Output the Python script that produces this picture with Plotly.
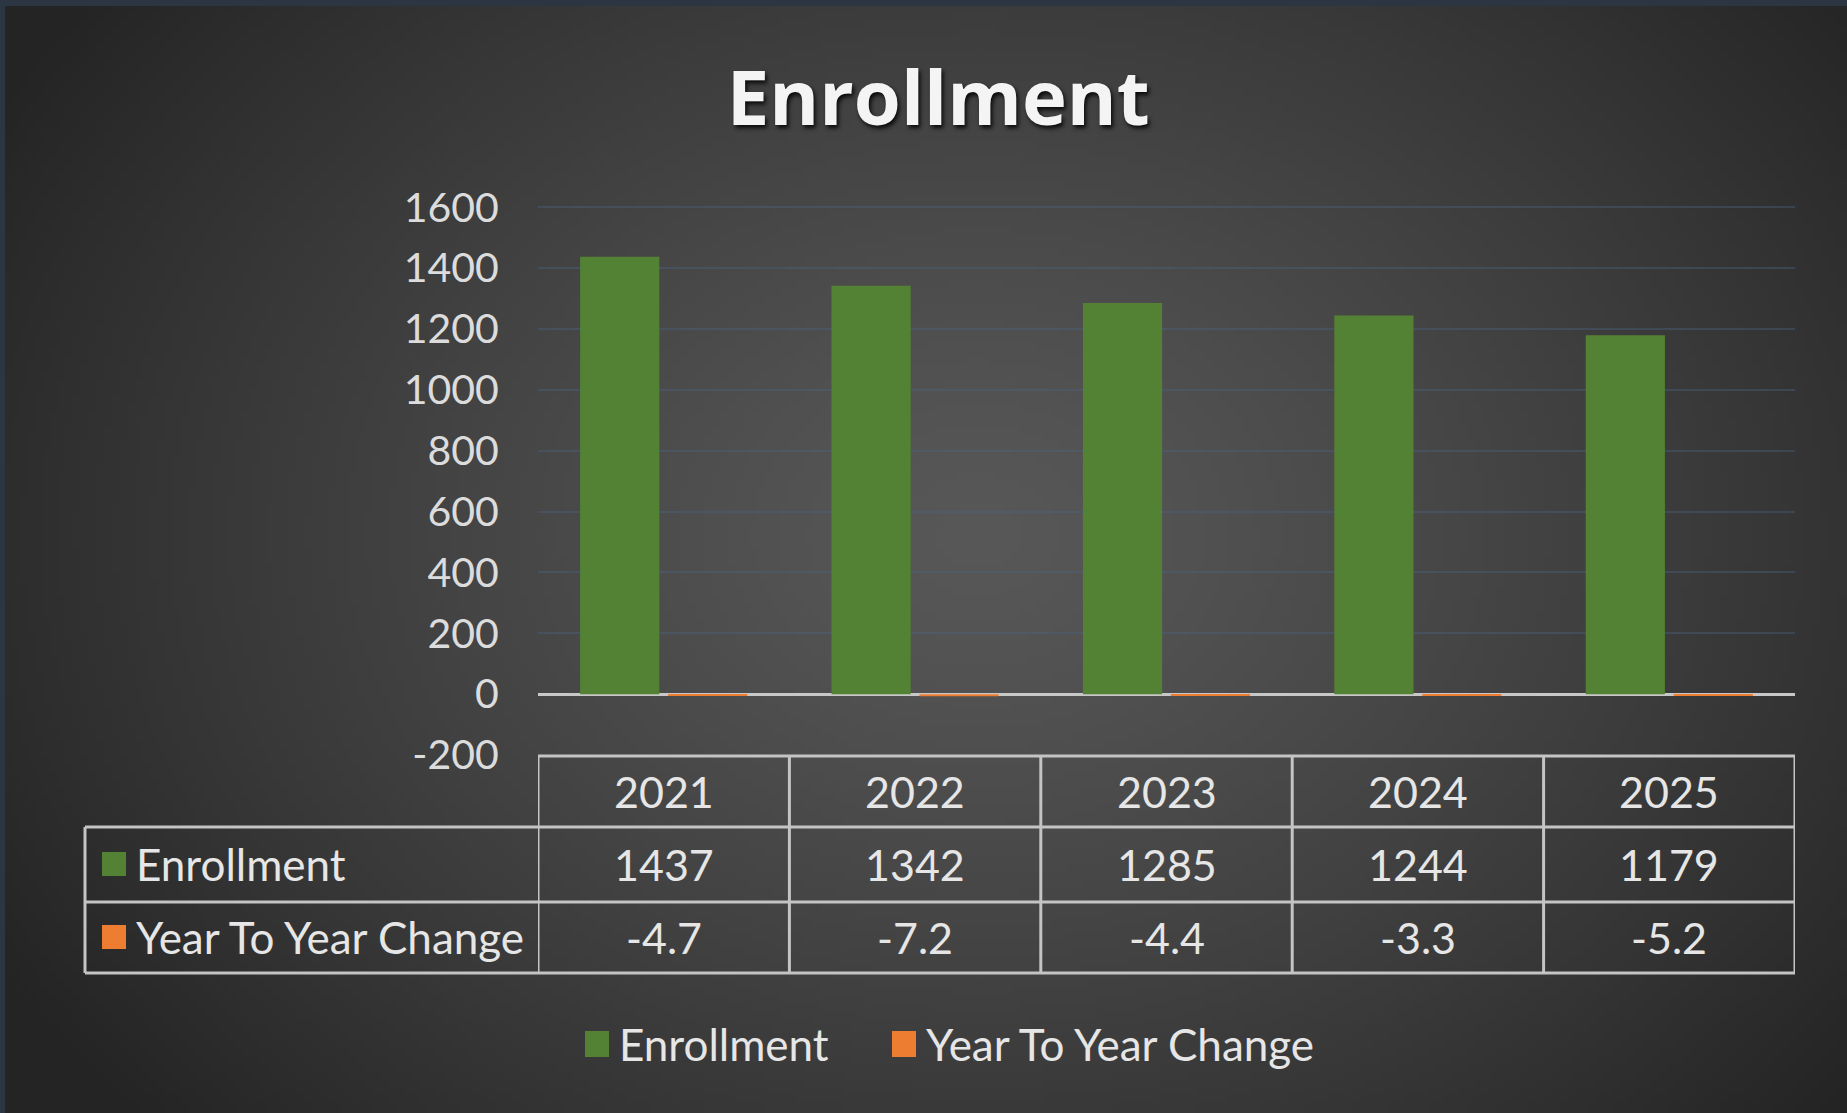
import base64, struct, zlib
import numpy as np
import plotly.graph_objects as go

# ---------------- data ----------------
years = ["2021", "2022", "2023", "2024", "2025"]
enrollment = [1437, 1342, 1285, 1244, 1179]
yoy_change = [-4.7, -7.2, -4.4, -3.3, -5.2]
series_names = ["Enrollment", "Year To Year Change"]
series_colors = ["#548235", "#ED7D31"]
y_ticks = [-200, 0, 200, 400, 600, 800, 1000, 1200, 1400, 1600]
y_tick_text = ["-200", "0", "200", "400", "600", "800", "1000", "1200", "1400", "1600"]

W, H = 1847, 1113
FONT = "Lato"
TXT = "#e6e6e6"
LINE = "#c4c4c4"


def px(x):
    return x / W


def py(y):
    return 1 - y / H


# ---------------- radial gradient background ----------------
def gradient_png(w=240, h=145):
    xs = np.linspace(0, 1, w)[None, :]
    ys = np.linspace(0, 1, h)[:, None]
    d = np.sqrt(((xs - 0.53) / 0.62) ** 2 + ((ys - 0.48) / 0.80) ** 2)
    d = np.clip(d, 0, 1) ** 1.25
    c0, c1 = 88.0, 36.0
    v = (c0 - (c0 - c1) * d).astype(np.uint8)
    img = np.stack([v, v, v], axis=-1)
    raw = b"".join(b"\x00" + img[r].tobytes() for r in range(h))

    def chunk(t, data):
        c = struct.pack(">I", len(data)) + t + data
        return c + struct.pack(">I", zlib.crc32(t + data) & 0xFFFFFFFF)

    png = b"\x89PNG\r\n\x1a\n" + chunk(b"IHDR", struct.pack(">IIBBBBB", w, h, 8, 2, 0, 0, 0))
    png += chunk(b"IDAT", zlib.compress(raw, 9)) + chunk(b"IEND", b"")
    return "data:image/png;base64," + base64.b64encode(png).decode()


fig = go.Figure()
fig.add_trace(go.Bar(x=years, y=enrollment, name=series_names[0],
                     marker=dict(color=series_colors[0], line=dict(width=0)), showlegend=False))
fig.add_trace(go.Bar(x=years, y=yoy_change, name=series_names[1],
                     marker=dict(color=series_colors[1], line=dict(width=0)), showlegend=False))

shapes = []
annotations = []

# table geometry (pixels)
tbl_left, plot_left, plot_right = 85, 538, 1795
row_lines = [756, 827, 902, 973]
hdr_c, r1_c, r2_c = 791, 864, 937

# horizontal table lines
shapes.append(dict(type="line", xref="paper", yref="paper", x0=px(plot_left), x1=px(plot_right),
                   y0=py(row_lines[0]), y1=py(row_lines[0]), line=dict(color=LINE, width=3)))
for yl in row_lines[1:]:
    shapes.append(dict(type="line", xref="paper", yref="paper", x0=px(tbl_left), x1=px(plot_right),
                       y0=py(yl), y1=py(yl), line=dict(color=LINE, width=3)))
# vertical table lines
shapes.append(dict(type="line", xref="paper", yref="paper", x0=px(tbl_left), x1=px(tbl_left),
                   y0=py(row_lines[1]), y1=py(row_lines[3]), line=dict(color=LINE, width=3)))
for i in range(len(years) + 1):
    shapes.append(dict(type="line", xref="x", yref="paper", x0=i - 0.5, x1=i - 0.5,
                       y0=py(row_lines[0]), y1=py(row_lines[3]), line=dict(color=LINE, width=3)))

# table text
cell_font = dict(family=FONT, size=43, color=TXT)
label_font = dict(family=FONT, size=44, color=TXT)
for i, yr in enumerate(years):
    annotations.append(dict(x=i, xref="x", y=py(hdr_c), yref="paper", text=yr, showarrow=False,
                            font=cell_font, yanchor="middle", xanchor="center"))
    annotations.append(dict(x=i, xref="x", y=py(r1_c), yref="paper", text=str(enrollment[i]),
                            showarrow=False, font=cell_font, yanchor="middle", xanchor="center"))
    annotations.append(dict(x=i, xref="x", y=py(r2_c), yref="paper", text=str(yoy_change[i]),
                            showarrow=False, font=cell_font, yanchor="middle", xanchor="center"))

# row headers with legend keys
for name, color, yc in zip(series_names, series_colors, [r1_c, r2_c]):
    shapes.append(dict(type="rect", xref="paper", yref="paper", x0=px(102), x1=px(126),
                       y0=py(yc - 12), y1=py(yc + 12), fillcolor=color, line=dict(width=0)))
    annotations.append(dict(x=px(134), y=py(yc), xref="paper", yref="paper", text=name,
                            showarrow=False, xanchor="left", yanchor="middle", font=label_font))

# bottom legend
leg_y = 1044
for name, color, sx in zip(series_names, series_colors, [585, 892]):
    shapes.append(dict(type="rect", xref="paper", yref="paper", x0=px(sx), x1=px(sx + 24),
                       y0=py(leg_y - 13), y1=py(leg_y + 13), fillcolor=color, line=dict(width=0)))
    annotations.append(dict(x=px(sx + 32), y=py(leg_y), xref="paper", yref="paper", text=name,
                            showarrow=False, xanchor="left", yanchor="middle", font=label_font))

# frame strip at top/left
shapes.append(dict(type="rect", xref="paper", yref="paper", x0=0, x1=1, y0=py(6), y1=1,
                   fillcolor="#2c3642", line=dict(width=0), layer="above"))
shapes.append(dict(type="rect", xref="paper", yref="paper", x0=0, x1=px(5), y0=0, y1=1,
                   fillcolor="#2c3642", line=dict(width=0), layer="above"))

fig.update_layout(
    width=W, height=H, autosize=False,
    margin=dict(l=0, r=0, t=0, b=0, pad=0),
    paper_bgcolor="#3a3a3a",
    plot_bgcolor="rgba(0,0,0,0)",
    barmode="group", bargap=0.3, bargroupgap=0.1,
    title=dict(text="Enrollment", x=0.508, xanchor="center", y=py(98), yanchor="middle",
               font=dict(family="Open Sans", size=76, color="#f4f4f4", weight=700,
                         shadow="2px 3px 4px rgba(0,0,0,0.85)")),
    xaxis=dict(domain=[px(plot_left), px(plot_right)], type="category", range=[-0.5, 4.5],
               showticklabels=False, showgrid=False, zeroline=False, showline=False,
               automargin=False),
    yaxis=dict(domain=[py(755), py(206)], range=[-200, 1604], tickvals=y_ticks,
               ticktext=y_tick_text,
               ticks="outside", ticklen=0, ticklabelstandoff=30, automargin=False,
               tickfont=dict(family=FONT, size=41, color="#dcdcdc"),
               showgrid=True, gridcolor="rgba(75,100,130,0.40)", gridwidth=2,
               zeroline=True, zerolinecolor="#c8c8c8", zerolinewidth=3, showline=False),
    shapes=shapes,
    annotations=annotations,
    images=[dict(source=gradient_png(), xref="paper", yref="paper", x=0, y=1, sizex=1, sizey=1,
                 sizing="stretch", layer="below", xanchor="left", yanchor="top")],
    showlegend=False,
)

post = ("document.documentElement.style.margin='0';document.body.style.margin='0';"
        "document.body.style.padding='0';document.body.style.overflow='hidden';")
fig.write_html("out.html", config={"displayModeBar": False}, post_script=post)
